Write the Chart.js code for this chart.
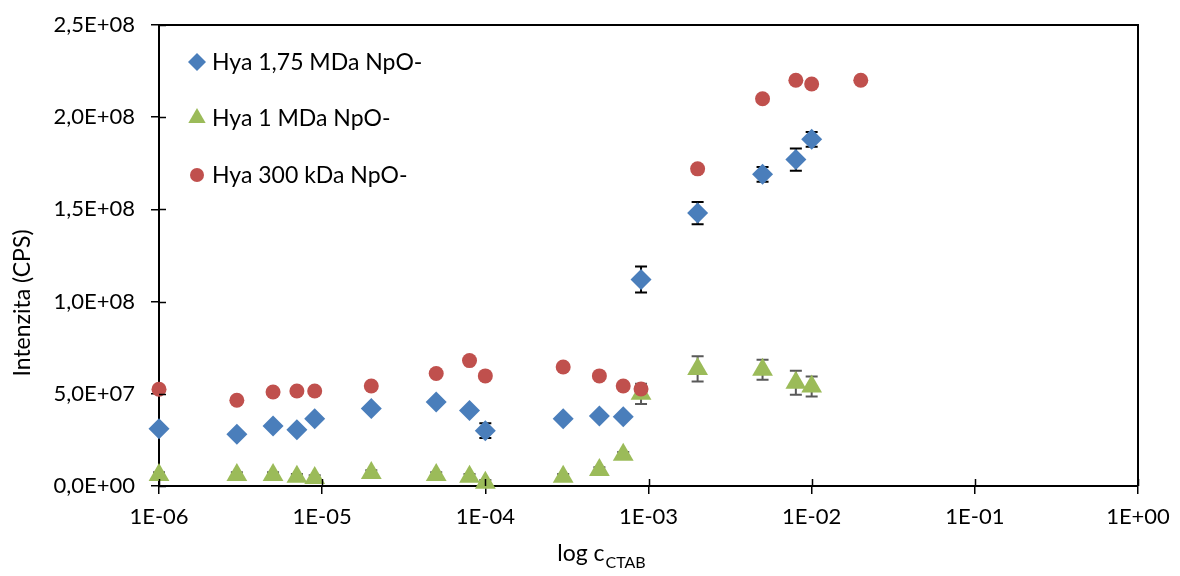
<!DOCTYPE html>
<html>
<head>
<meta charset="utf-8">
<script src="https://cdn.jsdelivr.net/npm/chart.js@4.4.0/dist/chart.umd.min.js"></script>
<style>
  html, body { margin: 0; padding: 0; background: #fff; }
  #wrap { width: 1180px; height: 576px; }
</style>
</head>
<body>
<div id="wrap"><canvas id="ctabChart" width="1180" height="576"></canvas></div>
<script>
// CTAB concentrations where intensity was measured
const concentrations = [1e-6, 3e-6, 5e-6, 7e-6, 9e-6, 2e-5, 5e-5, 8e-5, 1e-4, 3e-4, 5e-4, 7e-4, 9e-4, 2e-3, 5e-3, 8e-3, 1e-2, 2e-2];

// intensity (CPS) per series, null = not measured
const hya175 = [3.1e7, 2.8e7, 3.25e7, 3.05e7, 3.65e7, 4.2e7, 4.55e7, 4.1e7, 3.0e7, 3.65e7, 3.8e7, 3.75e7, 1.12e8, 1.48e8, 1.69e8, 1.77e8, 1.88e8, null];
const hya175Err = [0, 0, 0, 0, 0, 0, 0, 0, 4e6, 0, 0, 0, 7e6, 6e6, 4e6, 6e6, 4e6, null];
const hya1 = [6e6, 6e6, 6e6, 5e6, 4.3e6, 7e6, 6e6, 5e6, 1.8e6, 5e6, 8.7e6, 1.7e7, 5.0e7, 6.35e7, 6.3e7, 5.6e7, 5.4e7, null];
const hya1Err = [1.5e6, 1.5e6, 1.5e6, 1.5e6, 1.5e6, 1.5e6, 1.5e6, 1.5e6, 1.5e6, 1.5e6, 1.5e6, 1.5e6, 5.5e6, 6.8e6, 5.4e6, 6.5e6, 5.4e6, null];
const hya300 = [5.25e7, 4.65e7, 5.1e7, 5.15e7, 5.15e7, 5.42e7, 6.1e7, 6.8e7, 5.97e7, 6.45e7, 5.97e7, 5.42e7, 5.26e7, 1.72e8, 2.1e8, 2.2e8, 2.18e8, 2.2e8];

const seriesNames = ['Hya 1,75 MDa NpO-', 'Hya 1 MDa NpO-', 'Hya 300 kDa NpO-'];

const xTickValues = [1e-6, 1e-5, 1e-4, 1e-3, 1e-2, 1e-1, 1];
const xTickLabels = ['1E-06', '1E-05', '1E-04', '1E-03', '1E-02', '1E-01', '1E+00'];
const yTickValues = [0, 5e7, 1e8, 1.5e8, 2e8, 2.5e8];
const yTickLabels = ['0,0E+00', '5,0E+07', '1,0E+08', '1,5E+08', '2,0E+08', '2,5E+08'];

const FONT = 'Lato, "Open Sans", sans-serif';

function toPoints(values, errors) {
    const pts = [];
    concentrations.forEach((c, i) => {
        if (values[i] == null) return;
        pts.push({ x: c, y: values[i], err: errors ? errors[i] : 0 });
    });
    return pts;
}

// error bars drawn behind the markers
const errorBars = {
    id: 'errorBars',
    beforeDatasetsDraw(chart) {
        const { ctx, scales: { x, y } } = chart;
        chart.data.datasets.forEach(ds => {
            if (!ds.errorColor) return;
            ctx.save();
            ctx.strokeStyle = ds.errorColor;
            ctx.lineWidth = 2;
            ds.data.forEach(p => {
                if (!p.err) return;
                const px = x.getPixelForValue(p.x);
                const top = y.getPixelForValue(p.y + p.err);
                const bot = y.getPixelForValue(p.y - p.err);
                ctx.beginPath();
                ctx.moveTo(px, top); ctx.lineTo(px, bot);
                ctx.moveTo(px - 6, top); ctx.lineTo(px + 6, top);
                ctx.moveTo(px - 6, bot); ctx.lineTo(px + 6, bot);
                ctx.stroke();
            });
            ctx.restore();
        });
    }
};

// box around plot area + tick marks crossing into it, legend, axis titles
const decorations = {
    id: 'decorations',
    afterDraw(chart) {
        const { ctx, chartArea: a, scales: { x, y } } = chart;
        ctx.save();
        ctx.strokeStyle = '#000';
        ctx.lineWidth = 2;
        ctx.beginPath();
        ctx.moveTo(a.left, a.top); ctx.lineTo(a.right, a.top); ctx.lineTo(a.right, a.bottom);
        ctx.stroke();

        ctx.lineWidth = 1.5;
        ctx.beginPath();
        yTickValues.forEach(v => {
            const py = Math.round(y.getPixelForValue(v)) + 0.5;
            ctx.moveTo(a.left, py); ctx.lineTo(a.left + 7, py);
        });
        xTickValues.forEach(v => {
            const px = Math.round(x.getPixelForValue(v)) + 0.5;
            ctx.moveTo(px, a.bottom); ctx.lineTo(px, a.bottom - 7);
        });
        ctx.stroke();

        // legend inside the plot
        ctx.font = '23px ' + FONT;
        ctx.textBaseline = 'middle';
        ctx.textAlign = 'left';
        const legendY = [62, 118, 175];
        chart.data.datasets.forEach((ds, i) => {
            ctx.fillStyle = ds.backgroundColor;
            Chart.helpers.drawPoint(ctx, { pointStyle: ds.pointStyle, radius: ds.legendRadius, borderWidth: 0, rotation: 0 }, 197, legendY[i]);
            ctx.fillStyle = '#000';
            ctx.fillText(seriesNames[i], 212, legendY[i] + 1);
        });

        // y title
        ctx.save();
        ctx.translate(23, 303);
        ctx.rotate(-Math.PI / 2);
        ctx.textAlign = 'center';
        ctx.fillText('Intenzita (CPS)', 0, 0);
        ctx.restore();

        // x title with subscript
        ctx.textBaseline = 'alphabetic';
        const main = 'log c', sub = 'CTAB';
        ctx.font = '23px ' + FONT;
        const wMain = ctx.measureText(main).width;
        ctx.font = '16px ' + FONT;
        const wSub = ctx.measureText(sub).width;
        const startX = 601 - (wMain + wSub) / 2;
        ctx.font = '23px ' + FONT;
        ctx.fillText(main, startX, 561);
        ctx.font = '16px ' + FONT;
        ctx.fillText(sub, startX + wMain + 1, 568);
        ctx.restore();
    }
};

const ctx = document.getElementById('ctabChart').getContext('2d');
const ctabChart = new Chart(ctx, {
    type: 'scatter',
    data: {
        datasets: [{
            label: seriesNames[0],
            data: toPoints(hya175, hya175Err),
            pointStyle: 'rectRot',
            pointRadius: 10.5,
            legendRadius: 9,
            backgroundColor: '#4A7EBB',
            borderWidth: 0,
            errorColor: '#000',
            clip: false,
            order: 3
        }, {
            label: seriesNames[1],
            data: toPoints(hya1, hya1Err),
            pointStyle: 'triangle',
            pointRadius: 12,
            legendRadius: 10,
            backgroundColor: '#9BBB59',
            borderWidth: 0,
            errorColor: '#595959',
            clip: false,
            order: 2
        }, {
            label: seriesNames[2],
            data: toPoints(hya300),
            pointStyle: 'circle',
            pointRadius: 7.5,
            legendRadius: 7,
            backgroundColor: '#C0504D',
            borderWidth: 0,
            clip: false,
            order: 1
        }]
    },
    options: {
        responsive: false,
        animation: false,
        layout: { padding: { top: 25, right: 42, left: 0, bottom: 0 } },
        plugins: {
            legend: { display: false },
            tooltip: { enabled: false }
        },
        scales: {
            x: {
                type: 'logarithmic',
                min: 1e-6,
                max: 1,
                afterBuildTicks: s => { s.ticks = xTickValues.map(v => ({ value: v })); },
                afterFit: s => { s.height = 90; },
                ticks: {
                    callback: (v, i) => xTickLabels[i],
                    autoSkip: false,
                    maxRotation: 0,
                    padding: 10,
                    color: '#000',
                    font: { family: FONT, size: 22 }
                },
                grid: { drawOnChartArea: false, tickLength: 8, color: '#000', lineWidth: 1.5 },
                border: { color: '#000', width: 2 }
            },
            y: {
                min: 0,
                max: 2.5e8,
                afterBuildTicks: s => { s.ticks = yTickValues.map(v => ({ value: v })); },
                afterFit: s => { s.width = 159; s.paddingTop = 0; s.paddingBottom = 0; },
                ticks: {
                    callback: (v, i) => yTickLabels[i],
                    padding: 16,
                    color: '#000',
                    font: { family: FONT, size: 22 }
                },
                grid: { drawOnChartArea: false, tickLength: 8, color: '#000', lineWidth: 1.5 },
                border: { color: '#000', width: 2 }
            }
        }
    },
    plugins: [errorBars, decorations]
});
</script>
</body>
</html>
